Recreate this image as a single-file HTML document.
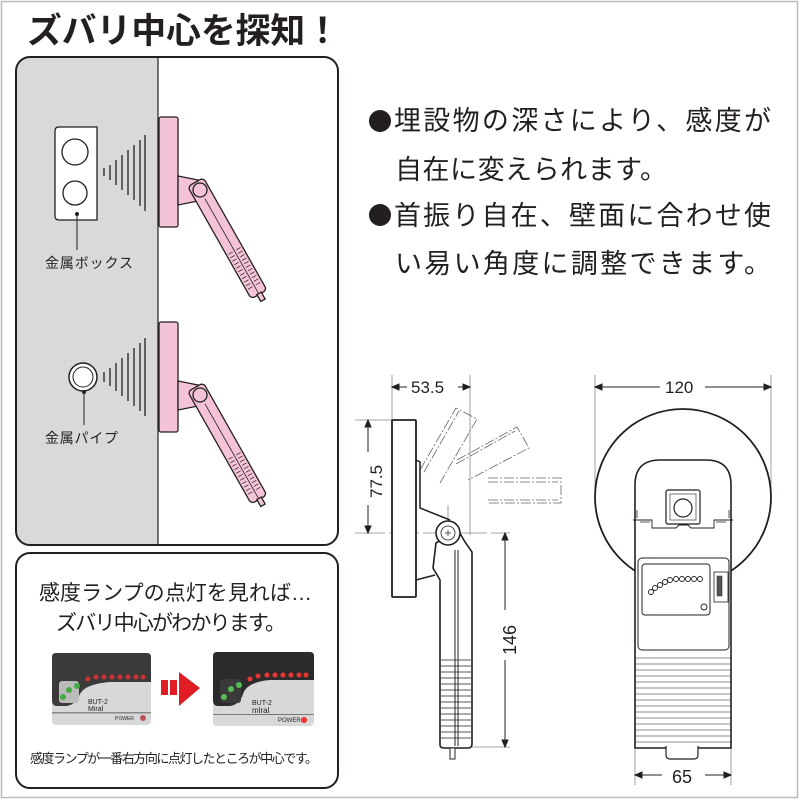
<!DOCTYPE html>
<html><head><meta charset="utf-8"><style>
html,body{margin:0;padding:0;background:#fff}
svg{display:block}
text{font-family:"Liberation Sans","Noto Sans CJK JP",sans-serif;fill:#231f20}
</style></head><body>
<svg width="800" height="800" viewBox="0 0 800 800" xmlns="http://www.w3.org/2000/svg">
<rect x="1.5" y="1.5" width="796" height="796" fill="#fff" stroke="#bbb" stroke-width="1.5"/>
<text x="27" y="43" font-size="35" font-weight="bold" textLength="313" lengthAdjust="spacingAndGlyphs">ズバリ中心を探知！</text>

<path d="M30 57 H158 V545 H30 Q16 545 16 531 V71 Q16 57 30 57Z" fill="#d9d9d9"/>
<rect x="16" y="57" width="322" height="488" rx="14" fill="none" stroke="#231f20" stroke-width="2"/>
<line x1="158" y1="57" x2="158" y2="545" stroke="#231f20" stroke-width="1.2"/>

<path d="M59 127 H97 V220 H59 Q55 220 55 216 V131 Q55 127 59 127Z" fill="#fff" stroke="#231f20" stroke-width="1.3"/>
<circle cx="75" cy="152" r="13" fill="#fff" stroke="#231f20" stroke-width="1.3"/>
<circle cx="75" cy="193" r="12" fill="#fff" stroke="#231f20" stroke-width="1.3"/>
<circle cx="77" cy="214" r="2" fill="#231f20"/>
<line x1="77" y1="214" x2="77" y2="250" stroke="#231f20"/>
<text x="45" y="268" font-size="14" textLength="88">金属ボックス</text>
<g stroke="#231f20" stroke-width="1.3">
<line x1="104" y1="168" x2="104" y2="176"/><line x1="110" y1="165" x2="110" y2="180"/><line x1="116" y1="160" x2="116" y2="185"/><line x1="122" y1="155" x2="122" y2="190"/><line x1="128" y1="150" x2="128" y2="195"/><line x1="134" y1="145" x2="134" y2="200"/><line x1="140" y1="140" x2="140" y2="206"/><line x1="145" y1="135" x2="145" y2="211"/>
</g>
<circle cx="83" cy="377" r="14" fill="#fff" stroke="#231f20" stroke-width="1.5"/>
<circle cx="83" cy="377" r="10" fill="#fff" stroke="#231f20" stroke-width="1"/>
<circle cx="84" cy="392" r="2" fill="#231f20"/>
<line x1="84" y1="392" x2="84" y2="425" stroke="#231f20"/>
<text x="45" y="443" font-size="14" textLength="73">金属パイプ</text>
<g stroke="#231f20" stroke-width="1.3">
<line x1="104" y1="372" x2="104" y2="382"/><line x1="110" y1="368" x2="110" y2="386"/><line x1="116" y1="363" x2="116" y2="391"/><line x1="122" y1="358" x2="122" y2="396"/><line x1="128" y1="353" x2="128" y2="401"/><line x1="134" y1="348" x2="134" y2="406"/><line x1="140" y1="343" x2="140" y2="411"/><line x1="145" y1="338" x2="145" y2="416"/>
</g>

<g fill="#f5c3d8" stroke="#231f20" stroke-width="1.3">
<rect x="159" y="117" width="19" height="110" rx="2"/>
<path d="M178 176 L203 181 L203 200 L178 205Z"/>
<g transform="translate(200,190) rotate(-29.5)">
<rect x="-9" y="-9" width="18" height="129" rx="4"/>
<rect x="-2" y="119" width="5" height="8"/>
<line x1="0" y1="10" x2="0" y2="118" stroke-width="0.8"/>
<g fill="none" stroke-width="0.7">
<path d="M-7 70 h5 M-7 74 h5 M-7 78 h5 M-7 82 h5 M-7 86 h5 M-7 90 h5 M-7 94 h5 M-7 98 h5 M-7 102 h5 M-7 106 h5 M-7 110 h5 M2 70 h5 M2 74 h5 M2 78 h5 M2 82 h5 M2 86 h5 M2 90 h5 M2 94 h5 M2 98 h5 M2 102 h5 M2 106 h5 M2 110 h5"/>
</g>
</g>
<circle cx="200" cy="190" r="7"/>
</g>
<g transform="translate(0,205)" fill="#f5c3d8" stroke="#231f20" stroke-width="1.3">
<rect x="159" y="117" width="19" height="110" rx="2"/>
<path d="M178 176 L203 181 L203 200 L178 205Z"/>
<g transform="translate(200,190) rotate(-29.5)">
<rect x="-9" y="-9" width="18" height="129" rx="4"/>
<rect x="-2" y="119" width="5" height="8"/>
<line x1="0" y1="10" x2="0" y2="118" stroke-width="0.8"/>
<g fill="none" stroke-width="0.7">
<path d="M-7 70 h5 M-7 74 h5 M-7 78 h5 M-7 82 h5 M-7 86 h5 M-7 90 h5 M-7 94 h5 M-7 98 h5 M-7 102 h5 M-7 106 h5 M-7 110 h5 M2 70 h5 M2 74 h5 M2 78 h5 M2 82 h5 M2 86 h5 M2 90 h5 M2 94 h5 M2 98 h5 M2 102 h5 M2 106 h5 M2 110 h5"/>
</g>
</g>
<circle cx="200" cy="190" r="7"/>
</g>

<rect x="16" y="553" width="322" height="235" rx="14" fill="#fff" stroke="#231f20" stroke-width="2"/>
<text x="39" y="600" font-size="21" textLength="273">感度ランプの点灯を見れば…</text>
<text x="56" y="630" font-size="21" textLength="230">ズバリ中心がわかります。</text>
<g>
<rect x="52" y="653" width="99" height="72" rx="4" fill="#d8d8d8"/>
<path d="M52 657 Q52 653 56 653 H147 Q151 653 151 657 V682 H110 Q85 684 80 694 Q75 706 65 706 H57 Q52 706 52 700Z" fill="#3a3a3a"/>
<rect x="52" y="712" width="99" height="1.5" fill="#888"/>
<g fill="#c33"><circle cx="88" cy="679" r="2.5"/><circle cx="96" cy="677" r="2.5"/><circle cx="104" cy="677" r="2.5"/><circle cx="112" cy="677" r="2.5"/><circle cx="120" cy="677" r="2.5"/><circle cx="128" cy="677" r="2.5"/><circle cx="136" cy="677" r="2.5"/><circle cx="143" cy="677" r="2.5"/></g>
<rect x="59" y="681" width="20" height="22" rx="3" fill="#bbb"/>
<g fill="#4a4"><circle cx="63" cy="697" r="3"/><circle cx="69" cy="690" r="3"/><circle cx="77" cy="686" r="3"/></g>
<text x="88" y="704" font-size="7" fill="#555">BUT-2</text><text x="88" y="711" font-size="7" fill="#444">Miral</text>
<text x="115" y="720" font-size="5" fill="#444">POWER</text><circle cx="143" cy="718" r="3" fill="#b55"/>
</g>
<g>
<rect x="213" y="652" width="101" height="74" rx="4" fill="#d8d8d8"/>
<path d="M213 656 Q213 652 217 652 H310 Q314 652 314 656 V680 H270 Q247 682 243 694 Q239 706 228 706 H218 Q213 706 213 700Z" fill="#2b2b2b"/>
<rect x="213" y="714" width="101" height="1" fill="#777"/>
<g fill="#e33"><circle cx="250" cy="679" r="2.5"/><circle cx="258" cy="676" r="2.5"/><circle cx="267" cy="675" r="2.5"/><circle cx="275" cy="675" r="2.5"/><circle cx="283" cy="675" r="2.5"/><circle cx="291" cy="675" r="2.5"/><circle cx="299" cy="675" r="2.5"/><circle cx="306" cy="675" r="2.5"/></g>
<rect x="220" y="679" width="21" height="24" rx="3" fill="#3a3a3a"/>
<g fill="#5b5"><circle cx="224" cy="697" r="3"/><circle cx="231" cy="689" r="3"/><circle cx="239" cy="685" r="3"/></g>
<text x="252" y="705" font-size="7" fill="#333">BUT-2</text><text x="252" y="713" font-size="8" fill="#222">mlral</text>
<text x="278" y="722" font-size="6" fill="#333">POWER</text><circle cx="304" cy="720" r="3" fill="#e33"/>
</g>
<rect x="161" y="680" width="7" height="15" fill="#e01d25"/><rect x="170" y="680" width="7" height="15" fill="#e01d25"/>
<path d="M179 672 L200 688 L179 706Z" fill="#e01d25"/>
<text x="30" y="763" font-size="13" textLength="288">感度ランプが一番右方向に点灯したところが中心です。</text>

<circle cx="380" cy="121" r="11" fill="#231f20"/>
<circle cx="380" cy="215" r="11" fill="#231f20"/>
<g font-size="27">
<text x="394" y="130" textLength="377">埋設物の深さにより、感度が</text>
<text x="395" y="179" textLength="272">自在に変えられます。</text>
<text x="394" y="225" textLength="377">首振り自在、壁面に合わせ使</text>
<text x="395" y="273" textLength="376">い易い角度に調整できます。</text>
</g>

<g stroke="#231f20" fill="none">
<g stroke="#888" stroke-width="0.8">
<line x1="392" y1="375" x2="392" y2="420"/><line x1="470" y1="375" x2="470" y2="535"/>
<line x1="355" y1="420" x2="392" y2="420"/><line x1="355" y1="533" x2="510" y2="533" stroke-dasharray="30 4"/>
<line x1="472" y1="747" x2="510" y2="747"/>
<line x1="448" y1="505" x2="448" y2="600" stroke-dasharray="14 3 3 3"/>
</g>
<g stroke-width="1">
<line x1="395" y1="387" x2="407" y2="387"/><path d="M392 387 l7 -3 v6z" fill="#231f20"/>
<line x1="458" y1="387" x2="467" y2="387"/><path d="M470 387 l-7 -3 v6z" fill="#231f20"/>
<line x1="368" y1="423" x2="368" y2="452"/><path d="M368 420 l-3 7 h6z" fill="#231f20"/>
<line x1="368" y1="505" x2="368" y2="530"/><path d="M368 533 l-3 -7 h6z" fill="#231f20"/>
<line x1="505" y1="536" x2="505" y2="610"/><path d="M505 533 l-3 7 h6z" fill="#231f20"/>
<line x1="505" y1="660" x2="505" y2="744"/><path d="M505 747 l-3 -7 h6z" fill="#231f20"/>
</g>
<g stroke="#666" stroke-width="0.8" stroke-dasharray="10 2 2 2">
<path d="M420 470 L456 408 L477 419 L440 483"/><path d="M424 472 L459 411"/>
<path d="M457 460 L517 427 L529 448 L468 480"/><path d="M456 464 L515 431"/>
<path d="M488 478 H561 V503 H488"/><path d="M488 482 H558"/><path d="M488 500 H558"/>
</g>
<rect x="392" y="420" width="24" height="177" rx="1" fill="#fff" stroke-width="1.8"/>
<path d="M416 460 L420 462 V508 L450 520" stroke-width="1.5"/>
<path d="M416 580 L435 575" stroke-width="1.5"/>
<path d="M436 543 L433 568 L440 580 L440 745 Q440 748 444 748 H468 Q472 748 472 744 V552 L465 542 L458 530Z" fill="#fff" stroke-width="1.6"/>
<line x1="455" y1="550" x2="455" y2="746" stroke-width="1"/><line x1="458" y1="550" x2="458" y2="746" stroke-width="1"/>
<g stroke-width="0.7"><path d="M441 660 H471 M441 666 H471 M441 672 H471 M441 678 H471 M441 684 H471 M441 690 H471 M441 696 H471 M441 702 H471 M441 708 H471 M441 714 H471 M441 720 H471 M441 726 H471 M441 732 H471 M441 738 H471"/></g>
<rect x="450" y="748" width="5" height="11" fill="#fff" stroke-width="1"/>
<circle cx="448" cy="533" r="12" fill="#fff" stroke-width="1.6"/>
<circle cx="448" cy="533" r="7" stroke-width="0.8"/>
<path d="M445 533 h6 M448 530 v6" stroke-width="0.7"/>
</g>
<text x="411" y="393" font-size="17">53.5</text>
<text x="0" y="0" font-size="17" transform="translate(382,498) rotate(-90)">77.5</text>
<text x="0" y="0" font-size="18" transform="translate(516,655) rotate(-90)">146</text>

<g stroke="#231f20" fill="none">
<g stroke="#888" stroke-width="0.8">
<line x1="595" y1="375" x2="595" y2="497"/><line x1="771" y1="375" x2="771" y2="497"/>
<line x1="635" y1="748" x2="635" y2="785"/><line x1="731" y1="748" x2="731" y2="785"/>
</g>
<g stroke-width="1">
<line x1="598" y1="387" x2="660" y2="387"/><path d="M595 387 l7 -3 v6z" fill="#231f20"/>
<line x1="705" y1="387" x2="768" y2="387"/><path d="M771 387 l-7 -3 v6z" fill="#231f20"/>
<line x1="638" y1="775" x2="662" y2="775"/><path d="M635 775 l7 -3 v6z" fill="#231f20"/>
<line x1="705" y1="775" x2="728" y2="775"/><path d="M731 775 l-7 -3 v6z" fill="#231f20"/>
</g>
<circle cx="683" cy="497" r="88" stroke-width="1.8"/>
<path d="M635 748 V485 Q635 460 660 460 H706 Q731 460 731 485 V748 Z" fill="#fff" stroke-width="1.6"/>
<path d="M666 746 V755 Q666 759 670 759 H694 Q698 759 698 755 V746" fill="#fff" stroke-width="1.2"/>
<rect x="666" y="490" width="34" height="34" rx="2" stroke-width="1.2"/>
<rect x="670" y="494" width="26" height="26" stroke-width="0.6"/>
<circle cx="683" cy="508" r="9" stroke-width="1.2"/>
<path d="M633 520 H652 V528 H676 L679 525 H688 L691 528 H714 V520 H733" stroke-width="0.9"/>
<path d="M637 518 V510 M729 518 V510 M640 522 H650 M716 522 H726" stroke-width="0.8"/>
<rect x="638" y="558" width="91" height="92" rx="4" stroke-width="1"/>
<rect x="642" y="564" width="68" height="51" rx="3" stroke-width="1"/>
<g stroke-width="0.9"><circle cx="651" cy="592" r="2.5"/><circle cx="655" cy="588" r="2.5"/><circle cx="660" cy="585" r="2.5"/><circle cx="665" cy="582" r="2.5"/><circle cx="670" cy="580" r="2.5"/><circle cx="676" cy="579" r="2.5"/><circle cx="682" cy="579" r="2.5"/><circle cx="688" cy="579" r="2.5"/><circle cx="694" cy="579" r="2.5"/><circle cx="700" cy="579" r="2.5"/><circle cx="704" cy="607" r="3"/></g>
<rect x="714" y="572" width="14" height="30" stroke-width="0.8"/>
<rect x="717" y="576" width="5" height="20" fill="#555" stroke-width="0.5"/>
<g stroke-width="0.6"><path d="M635 658 H731 M635 664 H731 M635 670 H731 M635 676 H731 M635 682 H731 M635 688 H731 M635 694 H731 M635 700 H731 M635 706 H731 M635 712 H731 M635 718 H731 M635 724 H731 M635 730 H731 M635 736 H731 M635 742 H731"/></g>
</g>
<text x="665" y="393" font-size="17">120</text>
<text x="672" y="783" font-size="18">65</text>
</svg>
</body></html>
